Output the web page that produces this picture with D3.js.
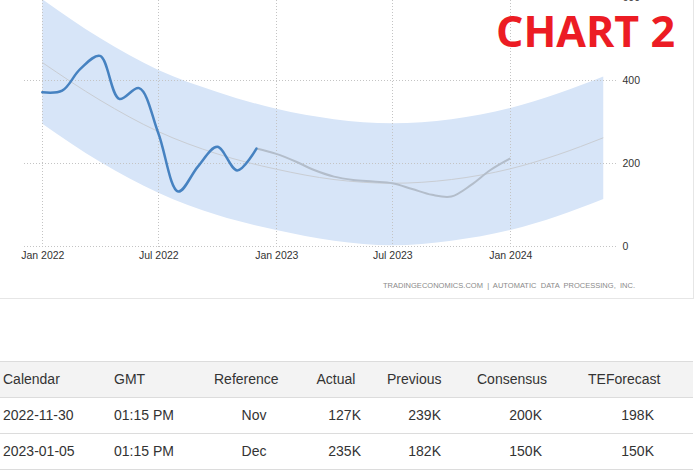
<!DOCTYPE html>
<html>
<head>
<meta charset="utf-8">
<script src="https://cdn.jsdelivr.net/npm/d3@7"></script>
<style>
  html, body { margin: 0; padding: 0; background: #fff; }
  svg { display: block; }
</style>
</head>
<body>
<svg id="c" width="695" height="473"></svg>
<script>
// ---------- DATA ----------
const actualDates  = ["2022-01-01","2022-02-01","2022-03-01","2022-04-01","2022-05-01","2022-06-01",
                      "2022-07-01","2022-08-01","2022-09-01","2022-10-01","2022-11-01","2022-12-01"];
const actualValues = [371, 375, 427, 459, 355, 381, 272, 131, 192, 239, 182, 235];

const forecastDates  = ["2022-12-01","2023-01-01","2023-02-01","2023-03-01","2023-04-01","2023-05-01",
                        "2023-06-01","2023-07-01","2023-08-01","2023-09-01","2023-10-01","2023-11-01",
                        "2023-12-01","2024-01-01"];
const forecastValues = [235, 222, 203, 183, 167, 159, 155, 151, 137, 123, 119, 147, 183, 211];

const trendDates  = ["2022-01-01","2022-04-01","2022-07-01","2022-10-01","2023-01-01","2023-04-01",
                     "2023-07-01","2023-10-01","2024-01-01","2024-03-15","2024-05-25"];
const trendValues = [443, 352, 276, 222, 185, 160, 151, 160, 186, 220, 261];
const bandUpper   = [596, 502, 425, 372, 331, 306, 296, 306, 333, 368, 409];
const bandLower   = [295, 203, 128, 74, 38, 12, 1, 12, 38, 72, 113];

const xTickDates  = ["2022-01-01","2022-07-01","2023-01-01","2023-07-01","2024-01-01"];
const yTickValues = [0, 200, 400, 600];

const tableHeaders = ["Calendar","GMT","Reference","Actual","Previous","Consensus","TEForecast"];
const tableRows = [
  ["2022-11-30","01:15 PM","Nov","127K","239K","200K","198K"],
  ["2023-01-05","01:15 PM","Dec","235K","182K","150K","150K"]
];
const sourceText = "TRADINGECONOMICS.COM  |  AUTOMATIC  DATA  PROCESSING,  INC.";
const badgeText = "CHART 2";

// ---------- SETUP ----------
const parse = d3.timeParse("%Y-%m-%d");
const svg = d3.select("#c");
const x = d3.scaleTime().domain([parse("2022-01-01"), parse("2024-01-01")]).range([42.3, 510.3]);
const y = d3.scaleLinear().domain([0, 400]).range([245.7, 80.3]);

// frame borders
svg.append("line").attr("x1", 0).attr("x2", 694).attr("y1", 298.5).attr("y2", 298.5)
   .attr("stroke", "#e6e6e6").attr("stroke-width", 1);
svg.append("line").attr("x1", 693.5).attr("x2", 693.5).attr("y1", 0).attr("y2", 298.5)
   .attr("stroke", "#e6e6e6").attr("stroke-width", 1);

// band
const bandData = trendDates.map((d, i) => ({ d: parse(d), hi: bandUpper[i], lo: bandLower[i] }));
svg.append("path").datum(bandData)
   .attr("d", d3.area().x(p => x(p.d)).y0(p => y(p.lo)).y1(p => y(p.hi)).curve(d3.curveMonotoneX))
   .attr("fill", "#d7e5f8");

// grid
const grid = svg.append("g");
grid.selectAll("line.v").data(xTickDates).join("line")
   .attr("x1", d => Math.round(x(parse(d))) + 0.5).attr("x2", d => Math.round(x(parse(d))) + 0.5)
   .attr("y1", 0).attr("y2", 248)
   .attr("stroke", "#c4c4c4").attr("stroke-dasharray", "1,2");
grid.selectAll("line.h").data(yTickValues).join("line")
   .attr("x1", 24).attr("x2", 618)
   .attr("y1", d => Math.round(y(d)) + 0.5).attr("y2", d => Math.round(y(d)) + 0.5)
   .attr("stroke", "#c4c4c4").attr("stroke-dasharray", "1,2");

// trend line
const trendData = trendDates.map((d, i) => ({ d: parse(d), v: trendValues[i] }));
svg.append("path").datum(trendData)
   .attr("d", d3.line().x(p => x(p.d)).y(p => y(p.v)).curve(d3.curveMonotoneX))
   .attr("fill", "none").attr("stroke", "#c9cdd3").attr("stroke-width", 1);

// forecast line
const fcData = forecastDates.map((d, i) => ({ d: parse(d), v: forecastValues[i] }));
svg.append("path").datum(fcData)
   .attr("d", d3.line().x(p => x(p.d)).y(p => y(p.v)).curve(d3.curveCatmullRom.alpha(0.5)))
   .attr("fill", "none").attr("stroke", "#b3bdca").attr("stroke-width", 2);

// actual line
const acData = actualDates.map((d, i) => ({ d: parse(d), v: actualValues[i] }));
svg.append("path").datum(acData)
   .attr("d", d3.line().x(p => x(p.d)).y(p => y(p.v)).curve(d3.curveCatmullRom.alpha(0.5)))
   .attr("fill", "none").attr("stroke", "#4682c1").attr("stroke-width", 2.5)
   .attr("stroke-linejoin", "round").attr("stroke-linecap", "round");

// x axis
const xAxis = d3.axisBottom(x).tickValues(xTickDates.map(parse))
   .tickFormat(d3.timeFormat("%b %Y")).tickSize(0).tickPadding(0);
const gx = svg.append("g").attr("transform", "translate(0,252)").call(xAxis);
gx.select(".domain").remove();
gx.selectAll("text").attr("font-family", "'Liberation Sans', Arial, sans-serif")
   .attr("font-size", "10.5px").attr("fill", "#333").attr("dy", "0.71em");

// y axis
const yAxis = d3.axisRight(y).tickValues(yTickValues).tickSize(0).tickPadding(0);
const gy = svg.append("g").attr("transform", "translate(622.5,0)").call(yAxis);
gy.select(".domain").remove();
gy.selectAll("text").attr("font-family", "'Liberation Sans', Arial, sans-serif")
   .attr("font-size", "10.5px").attr("fill", "#333");

// source
svg.append("text").attr("x", 383).attr("y", 288)
   .attr("font-family", "'Liberation Sans', Arial, sans-serif").attr("font-size", "7.5px")
   .attr("fill", "#8a8a8a").attr("textLength", 252).attr("lengthAdjust", "spacing")
   .attr("xml:space", "preserve").style("white-space", "pre")
   .text(sourceText);

// badge
svg.append("text").attr("x", 496).attr("y", 46.7)
   .attr("font-family", "'Open Sans', sans-serif").attr("font-weight", 700)
   .attr("font-size", "43px").attr("fill", "#ec1c24").text(badgeText);

// ---------- TABLE ----------
const tbl = svg.append("g");
tbl.append("rect").attr("x", 0).attr("y", 361).attr("width", 693).attr("height", 36).attr("fill", "#f3f3f3");
[361.5, 397.5, 433.5, 469.5].forEach(yy => {
  tbl.append("line").attr("x1", 0).attr("x2", 693).attr("y1", yy).attr("y2", yy)
     .attr("stroke", "#dcdcdc").attr("stroke-width", 1);
});
const headCols = [ {x: 3, a: "start"}, {x: 114, a: "start"}, {x: 214, a: "start"}, {x: 316.5, a: "start"},
                   {x: 387, a: "start"}, {x: 477, a: "start"}, {x: 588, a: "start"} ];
const cellCols = [ {x: 3, a: "start"}, {x: 114, a: "start"}, {x: 254, a: "middle"}, {x: 361, a: "end"},
                   {x: 441, a: "end"}, {x: 542, a: "end"}, {x: 654, a: "end"} ];
const fontT = "'Liberation Sans', Arial, sans-serif";
tbl.selectAll("text.h").data(tableHeaders).join("text")
   .attr("x", (d, i) => headCols[i].x).attr("text-anchor", (d, i) => headCols[i].a)
   .attr("y", 384).attr("font-family", fontT).attr("font-size", "14px").attr("fill", "#333")
   .text(d => d);
tableRows.forEach((row, r) => {
  tbl.selectAll("text.r" + r).data(row).join("text")
     .attr("x", (d, i) => cellCols[i].x).attr("text-anchor", (d, i) => cellCols[i].a)
     .attr("y", 420 + r * 36).attr("font-family", fontT).attr("font-size", "14px").attr("fill", "#333")
     .text(d => d);
});
</script>
</body>
</html>
